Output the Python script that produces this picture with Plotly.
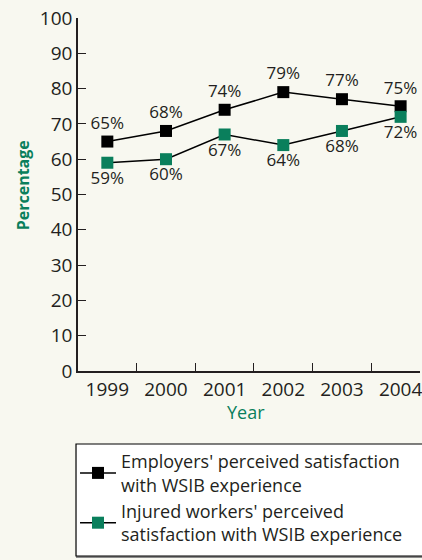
import plotly.graph_objects as go

# Survey results, 1999-2004
years = ["1999", "2000", "2001", "2002", "2003", "2004"]
employers = [65, 68, 74, 79, 77, 75]
workers = [59, 60, 67, 64, 68, 72]
employers_name = "Employers' perceived satisfaction<br>with WSIB experience"
workers_name = "Injured workers' perceived<br>satisfaction with WSIB experience"

BG = "#f8f8f0"
INK = "#231f20"
GREEN = "#0a7f5c"
FONT = "Open Sans"

W, H = 422, 560
ML, MR, MT, MB = 78, 0, 18, 189
PW, PH = W - ML - MR, H - MT - MB


def px_x(p):
    return (p - ML) / PW


def px_y(p):
    return (H - MB - p) / PH


fig = go.Figure()
fig.add_trace(go.Scatter(
    x=years, y=employers, name=employers_name,
    mode="lines+markers+text",
    line=dict(color="black", width=1.5),
    marker=dict(symbol="square", size=12, color="black"),
    text=[f"{v}%" for v in employers], textposition="top center",
    textfont=dict(family=FONT, size=17, color=INK),
))
fig.add_trace(go.Scatter(
    x=years, y=workers, name=workers_name,
    mode="lines+markers+text",
    line=dict(color="black", width=1.5),
    marker=dict(symbol="square", size=12, color=GREEN),
    text=[f"{v}%" for v in workers], textposition="bottom center",
    textfont=dict(family=FONT, size=17, color=INK),
))

# legend frame with a soft shadow along its lower edge
fig.add_shape(type="rect", xref="paper", yref="paper",
              x0=px_x(76), x1=1.1, y0=px_y(558), y1=px_y(446),
              fillcolor="#8a8a8a", line=dict(width=0), layer="below")
fig.add_shape(type="rect", xref="paper", yref="paper",
              x0=px_x(76), x1=1.1, y0=px_y(556), y1=px_y(444),
              fillcolor="white", line=dict(color="black", width=1.2), layer="below")

fig.add_annotation(text="<b>Percentage</b>", xref="paper", yref="paper",
                   x=px_x(23), y=px_y(185), xanchor="center", yanchor="middle",
                   textangle=-90, showarrow=False,
                   font=dict(family=FONT, size=16, color=GREEN))
fig.add_annotation(text="Year", xref="paper", yref="paper",
                   x=px_x(247), y=px_y(412), xanchor="center", yanchor="middle",
                   showarrow=False,
                   font=dict(family=FONT, size=18, color=GREEN))

fig.update_layout(
    width=W, height=H,
    margin=dict(l=ML, r=MR, t=MT, b=MB),
    paper_bgcolor=BG, plot_bgcolor=BG,
    font=dict(family=FONT, color=INK),
    showlegend=True,
    legend=dict(
        x=px_x(75), y=px_y(443), xanchor="left", yanchor="top",
        bgcolor="rgba(0,0,0,0)", borderwidth=0,
        font=dict(family=FONT, size=18, color=INK),
        itemwidth=36,
    ),
    xaxis=dict(
        type="category", range=[-0.5, (W - 107.5) / 59.0],
        showline=True, linecolor=INK, linewidth=1.5,
        ticks="inside", tickson="boundaries", ticklen=8, tickwidth=1.2, tickcolor=INK,
        showgrid=False, zeroline=False,
        tickfont=dict(family=FONT, size=19, color=INK),
    ),
    yaxis=dict(
        range=[0, 100], tickvals=list(range(0, 101, 10)),
        showline=True, linecolor=INK, linewidth=1.5,
        ticks="inside", ticklen=8, tickwidth=1.2, tickcolor=INK,
        showgrid=False, zeroline=False,
        tickfont=dict(family=FONT, size=19, color=INK),
    ),
)

fig.write_html("out.html")
